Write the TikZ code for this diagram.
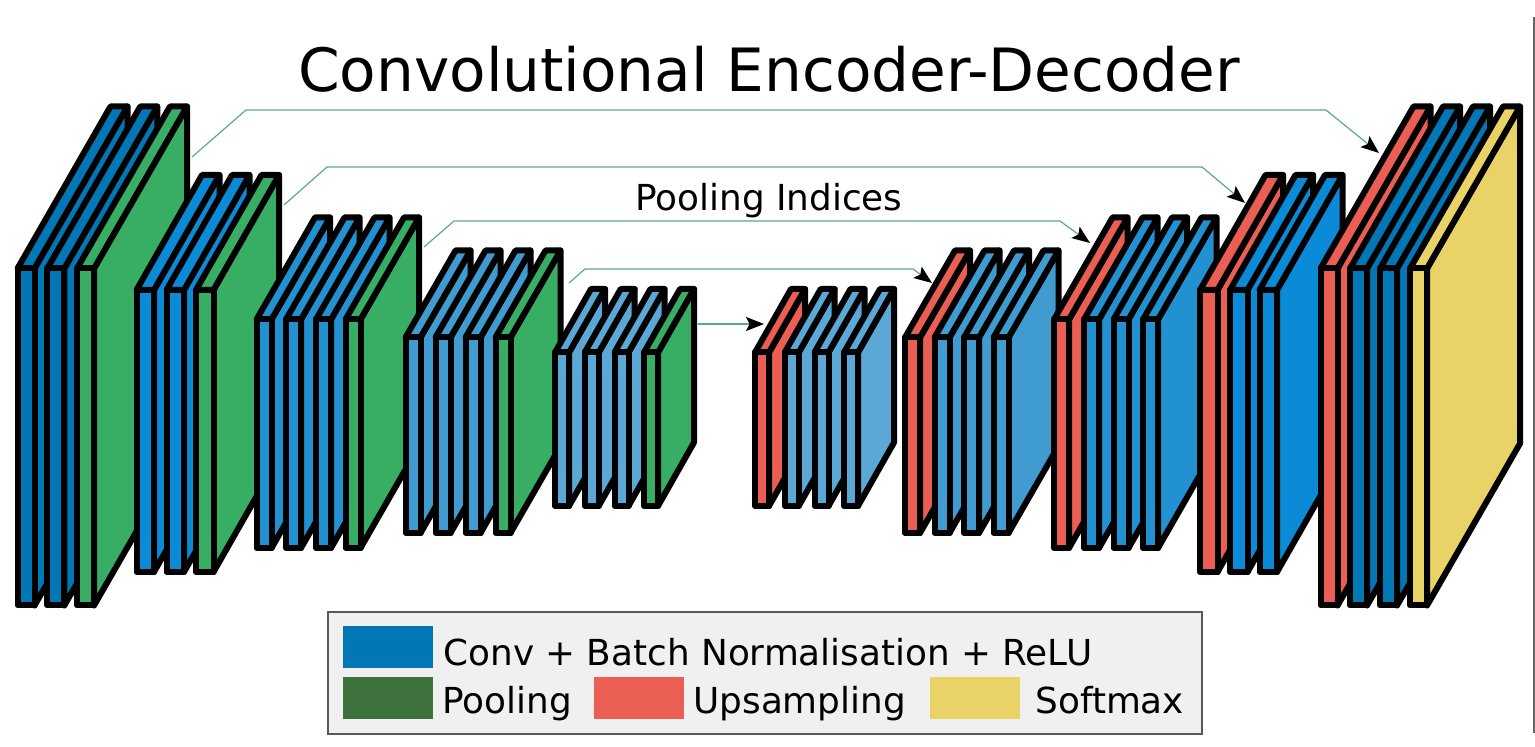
\documentclass[tikz,border=0pt]{standalone}
\usepackage{fontspec}
\setmainfont{DejaVu Sans}
\usetikzlibrary{arrows.meta}
\definecolor{convA}{HTML}{0277B5}
\definecolor{convB}{HTML}{0B8BD7}
\definecolor{convC}{HTML}{2191D2}
\definecolor{convD}{HTML}{3F9BD0}
\definecolor{convE}{HTML}{5BA8D7}
\definecolor{pool}{HTML}{38AE64}
\definecolor{poolkey}{HTML}{3D723D}
\definecolor{upsa}{HTML}{EA5E53}
\definecolor{soft}{HTML}{E9D366}
\definecolor{skip}{HTML}{5AA88F}
\tikzset{
  slab/.style={draw=black, line width=3pt, line join=round},
  skipline/.style={draw=skip, line width=0.6pt, -{Stealth[black, length=9pt, width=7pt, inset=1.8pt]}},
  keytext/.style={anchor=base west, inner sep=0pt, font=\fontsize{17.9}{20}\selectfont}
}
\begin{document}
\begin{tikzpicture}[x=0.5pt, y=-0.5pt]
\useasboundingbox (0,0) rectangle (1535,747);

% Draw the slabs of each level, left to right
\foreach \wd/\yt/\yb/\dx/\dy/\slabs in {
    17/268.5/605.5/93/162/{17.5/convA, 47.3/convA, 77/pool},
    17.5/290/572/65.5/115/{136.5/convB, 166.5/convB, 196/pool},
    15/319.5/548/58.5/102/{256.5/convC, 286/convC, 316/convC, 345.5/pool},
    15/337.5/533/50/87/{405.5/convD, 435.5/convD, 465.5/convD, 495.5/pool},
    14/352.5/506/36/63.5/{555/convE, 584.7/convE, 614.5/convE, 644/pool},
    14/352.5/506/36/63.5/{755/upsa, 784.7/convE, 814.5/convE, 844/convE},
    15/337.5/533/50/87/{905/upsa, 934.5/convD, 964/convD, 993.5/convD},
    15/319.5/548/58.5/102/{1054/upsa, 1084/convC, 1113.5/convC, 1143/convC},
    17.5/290/572/65.5/115/{1200/upsa, 1230/convB, 1259.5/convB},
    17/268.5/605.5/93/162/{1320.5/upsa, 1350/convA, 1380/convA, 1410/soft}} {
    \foreach \x/\col in \slabs {
        \draw[slab, fill=\col] (\x+\wd,\yt) -- (\x+\wd+\dx,\yt-\dy) -- (\x+\wd+\dx,\yb-\dy) -- (\x+\wd,\yb) -- cycle;
        \draw[slab, fill=\col] (\x,\yt) -- (\x+\dx,\yt-\dy) -- (\x+\wd+\dx,\yt-\dy) -- (\x+\wd,\yt) -- cycle;
        \draw[slab, fill=\col] (\x,\yt) rectangle (\x+\wd,\yb);
    }
}

% Ends and bends of the links
\foreach \i/\x/\y in {1/192/157, 2/246/110, 3/1326/110, 4/1379/153,
    5/284/205, 6/327/167, 7/1202/167, 8/1245/203,
    9/424/247, 10/454/221, 11/1060/221, 12/1090/243,
    13/569/283, 14/585/269, 15/913/269, 16/932/283,
    17/698/324, 18/764/324} {
    \coordinate (p\i) at (\x,\y);
}
\draw[skipline] (p1) -- (p2) -- (p3) -- (p4);
\draw[skipline] (p5) -- (p6) -- (p7) -- (p8);
\draw[skipline] (p9) -- (p10) -- (p11) -- (p12);
\draw[skipline] (p13) -- (p14) -- (p15) -- (p16);
\draw[skipline] (p17) -- (p18);

\node[anchor=base, inner sep=0pt, font=\fontsize{29.85}{32}\selectfont] (title) at (769,92) {Convolutional Encoder-Decoder};
\node[anchor=base, inner sep=0pt, font=\fontsize{17.9}{20}\selectfont] (indices) at (769,211) {Pooling Indices};

% Legend
\draw[draw=black!65, fill=black!6, line width=0.6pt] (328,612) rectangle (1202,734);
\foreach \name/\col/\xa/\xb/\ya/\yb in {a/convA/343/433/626/668, b/poolkey/343/433/677/719, c/upsa/594/684/677/719, d/soft/930/1020/677/719} {
    \fill[\col] (\xa,\ya) rectangle (\xb,\yb);
}
\node[keytext] (conv) at (443,665) {Conv + Batch Normalisation + ReLU};
\node[keytext] (pooling) at (442,713) {Pooling};
\node[keytext] (upsampling) at (693,713) {Upsampling};
\node[keytext] (softmax) at (1035,713) {Softmax};

\draw[draw=black!60, line width=0.6pt] (1534,17) -- (1534,733);
\end{tikzpicture}
\end{document}
